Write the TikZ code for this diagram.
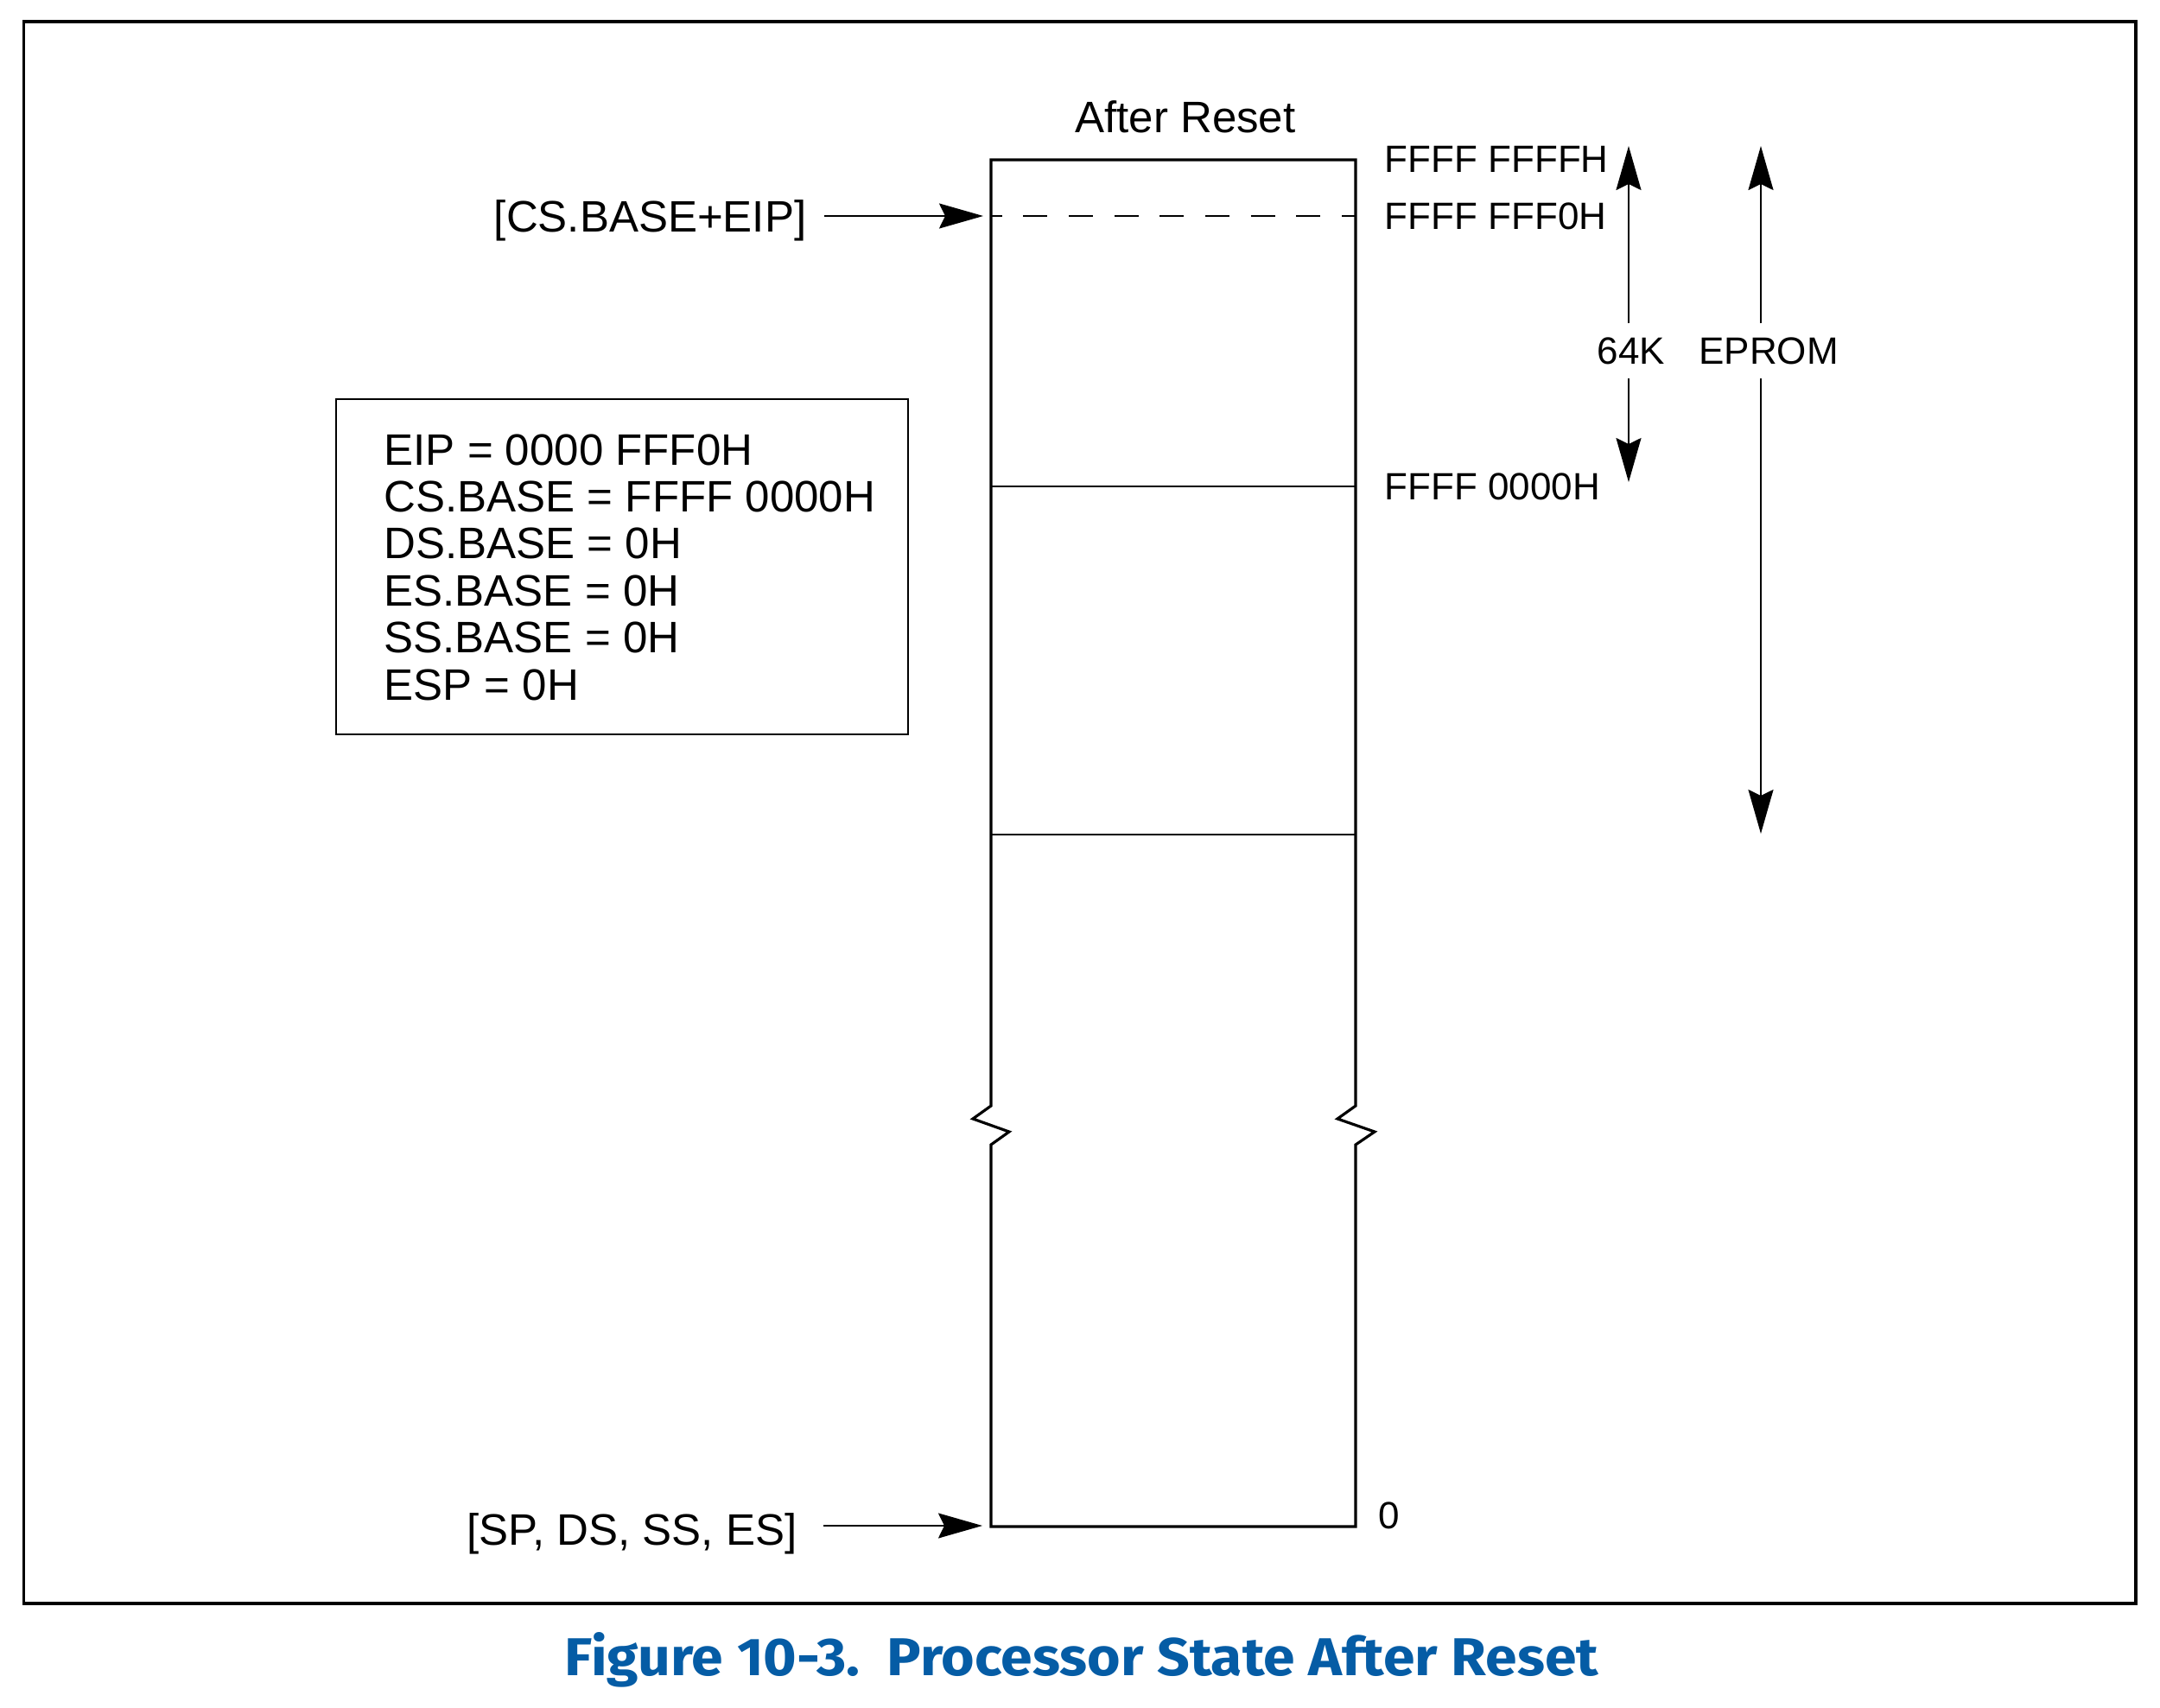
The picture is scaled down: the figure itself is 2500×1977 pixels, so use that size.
\documentclass[tikz,border=0pt]{standalone}
\usepackage{graphicx}
\usepackage{fontspec}
\setmainfont{Liberation Sans}
\newfontfamily\capfont{Fira Sans}
\usetikzlibrary{arrows.meta}
\definecolor{intelblue}{RGB}{5,92,165}
\begin{document}
\begin{tikzpicture}[x=0.3pt,y=-0.3pt,
  lbl/.style={font=\fontsize{15.3pt}{18pt}\selectfont, inner sep=0pt},
  addr/.style={font=\fontsize{13.2pt}{16pt}\selectfont, inner sep=0pt},
  arr/.style={line width=0.6pt, -{Stealth[length=15.3pt,width=8.7pt,inset=2.1pt]}},
  col/.style={line width=0.95pt, line join=miter},
  divider/.style={line width=0.65pt},
  dashdiv/.style={line width=0.7pt, dash pattern=on 8.4pt off 7.4pt, dash phase=4.6pt},
  regbox/.style={draw, line width=0.6pt, inner sep=0pt}
]
\useasboundingbox (0,0) rectangle (2500,1977);
\fill[white] (0,0) rectangle (2500,1977);
% outer frame
\draw[line width=1.05pt] (27.5,25) rectangle (2472,1856);

% memory column with break marks
\draw[col] (1569,1280) -- (1569,185) -- (1147,185) -- (1147,1280) -- (1126,1295) -- (1168,1310) -- (1147,1325)
  -- (1147,1767) -- (1569,1767) -- (1569,1325) -- (1591,1310) -- (1548,1295) -- cycle;
\draw[divider] (1147,563) -- (1569,563);
\draw[divider] (1147,966) -- (1569,966);
\draw[dashdiv] (1147,250) -- (1569,250);

% column title and addresses
\node[lbl, anchor=base] (after) at (1372,153) {After Reset};
\node[addr, anchor=base west] (a1) at (1602,199) {FFFF FFFFH};
\node[addr, anchor=base west] (a2) at (1602,265) {FFFF FFF0H};
\node[addr, anchor=base west] (a3) at (1602,578) {FFFF 0000H};
\node[addr, anchor=base west] (a0) at (1595,1769) {0};

% size arrows
\node[addr, minimum height=18.6pt] (k64) at (1888,406) {64K};
\node[addr, minimum height=18.6pt] (eprom) at (2047,406) {EPROM};
\coordinate (k64top) at (1885,169);
\coordinate (k64bot) at (1885,558);
\coordinate (eptop) at (2038,169);
\coordinate (epbot) at (2038,965);
\draw[arr] (k64.north -| k64top) -- (k64top);
\draw[arr] (k64.south -| k64bot) -- (k64bot);
\draw[arr] (eprom.north -| eptop) -- (eptop);
\draw[arr] (eprom.south -| epbot) -- (epbot);

% register box
\node[regbox, minimum width=198.6pt, minimum height=116.4pt] (regs) at (720,656) {};
\foreach \t [count=\i] in {EIP = 0000 FFF0H, CS.BASE = FFFF 0000H, DS.BASE = 0H, ES.BASE = 0H, SS.BASE = 0H, ESP = 0H}
  \node[lbl, anchor=base west] (r\i) at (444,{538+(\i-1)*54.4}) {\t};

% pointers
\node[lbl, anchor=base east, inner xsep=6pt] (csl) at (954,268) {[CS.BASE+EIP]};
\coordinate (cstip) at (1138,250);
\draw[arr] (csl.east |- cstip) -- (cstip);
\node[lbl, anchor=base east, inner xsep=9pt] (spl) at (953,1788) {[SP, DS, SS, ES]};
\coordinate (sptip) at (1137,1766);
\draw[arr] (spl.east |- sptip) -- (sptip);

% caption
\node[anchor=base, text=intelblue, inner sep=0pt] (cap) at (1252,1939)
  {\resizebox{358.8pt}{15pt}{\capfont\bfseries Figure 10-3.\ \ Processor State After Reset}};
\end{tikzpicture}
\end{document}
